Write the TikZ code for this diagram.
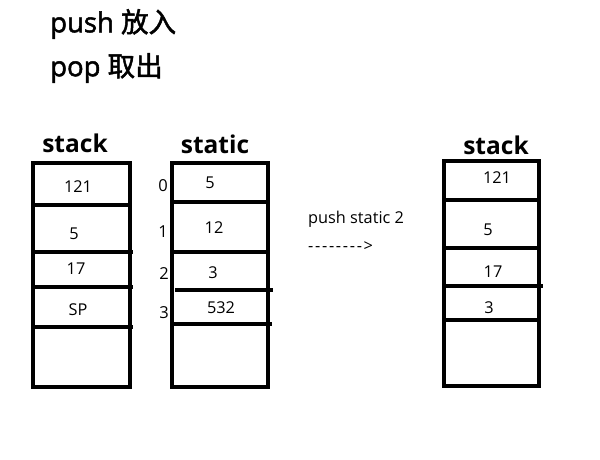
\documentclass[tikz,border=0pt]{standalone}
\usepackage{fontspec}
\setmainfont{Open Sans}
\newfontfamily\cjk{Noto Sans CJK SC}
\newfontfamily\headlat[FakeBold=1.8]{Open Sans}
\newfontfamily\headcjk[FakeBold=1.8]{Noto Sans CJK SC}
\begin{document}
\begin{tikzpicture}[x=1pt,y=-1pt,
  box/.style={draw=black,line width=4pt,rectangle,inner sep=0pt},
  sep/.style={draw=black,line width=4pt},
  val/.style={inner sep=0pt,font=\fontsize{16.3}{19}\selectfont},
  idx/.style={inner sep=0pt,font=\fontsize{16.5}{19}\selectfont},
  title/.style={inner sep=0pt,font=\fontsize{24.5}{29}\selectfont\bfseries},
  head/.style={inner sep=0pt,anchor=west,font=\fontsize{27.5}{32}\selectfont\headlat}]
\useasboundingbox (0,0) rectangle (600,460);
\fill[white] (0,0) rectangle (600,460);

% headings
\node[head] (h1) at (50,24) {push {\headcjk 放入}};
\node[head] (h2) at (50,68) {pop {\headcjk 取出}};

% left stack
\node[title] (t1) at (75,143) {stack};
\node[box,minimum width=97pt,minimum height=224pt] (s1) at (81.5,275) {};
\coordinate (a1) at (33,205); \coordinate (b1) at (130,205);
\coordinate (a2) at (33,252); \coordinate (b2) at (133,252);
\coordinate (a3) at (33,287); \coordinate (b3) at (133,287);
\coordinate (a4) at (33,327); \coordinate (b4) at (133,327);
\draw[sep] (a1) -- (b1); \draw[sep] (a2) -- (b2);
\draw[sep] (a3) -- (b3); \draw[sep] (a4) -- (b4);
\node[val] (v11) at (78,187) {121};
\node[val] (v12) at (74,234) {5};
\node[val] (v13) at (76,269) {17};
\node[val] (v14) at (78,310) {SP};

% static
\node[title] (t2) at (215,144) {static};
\node[box,minimum width=96pt,minimum height=224pt] (s2) at (220,275) {};
\coordinate (c1) at (172,202); \coordinate (d1) at (268,202);
\coordinate (c2) at (172,252); \coordinate (d2) at (268,252);
\coordinate (c3) at (175,290); \coordinate (d3) at (273,290);
\coordinate (c4) at (172,324); \coordinate (d4) at (272,324);
\draw[sep] (c1) -- (d1); \draw[sep] (c2) -- (d2);
\draw[sep] (c3) -- (d3); \draw[sep] (c4) -- (d4);
\node[idx] (i0) at (163,186) {0};
\node[idx] (i1) at (163,232) {1};
\node[idx] (i2) at (164,274) {2};
\node[idx] (i3) at (164,313) {3};
\node[val] (v21) at (210,183) {5};
\node[val] (v22) at (214,228) {12};
\node[val] (v23) at (213,273) {3};
\node[val] (v24) at (221,308) {532};

% operation
\node[val,anchor=west] (op) at (308,219) {push static 2};
\node[val,anchor=west] (ar) at (308,247) {-\kern1.7pt-\kern1.7pt-\kern1.7pt-\kern1.7pt-\kern1.7pt-\kern1.7pt-\kern1.7pt-\kern1.5pt>};

% right stack
\node[title] (t3) at (496,145) {stack};
\node[box,minimum width=95pt,minimum height=225pt] (s3) at (491.5,273.5) {};
\coordinate (e1) at (444,200); \coordinate (f1) at (539,200);
\coordinate (e2) at (444,248); \coordinate (f2) at (539,248);
\coordinate (e3) at (444,286); \coordinate (f3) at (543,286);
\coordinate (e4) at (444,320); \coordinate (f4) at (539,320);
\draw[sep] (e1) -- (f1); \draw[sep] (e2) -- (f2);
\draw[sep] (e3) -- (f3); \draw[sep] (e4) -- (f4);
\node[val] (v31) at (497,178) {121};
\node[val] (v32) at (488,230) {5};
\node[val] (v33) at (493,272) {17};
\node[val] (v34) at (489,308) {3};
\end{tikzpicture}
\end{document}
